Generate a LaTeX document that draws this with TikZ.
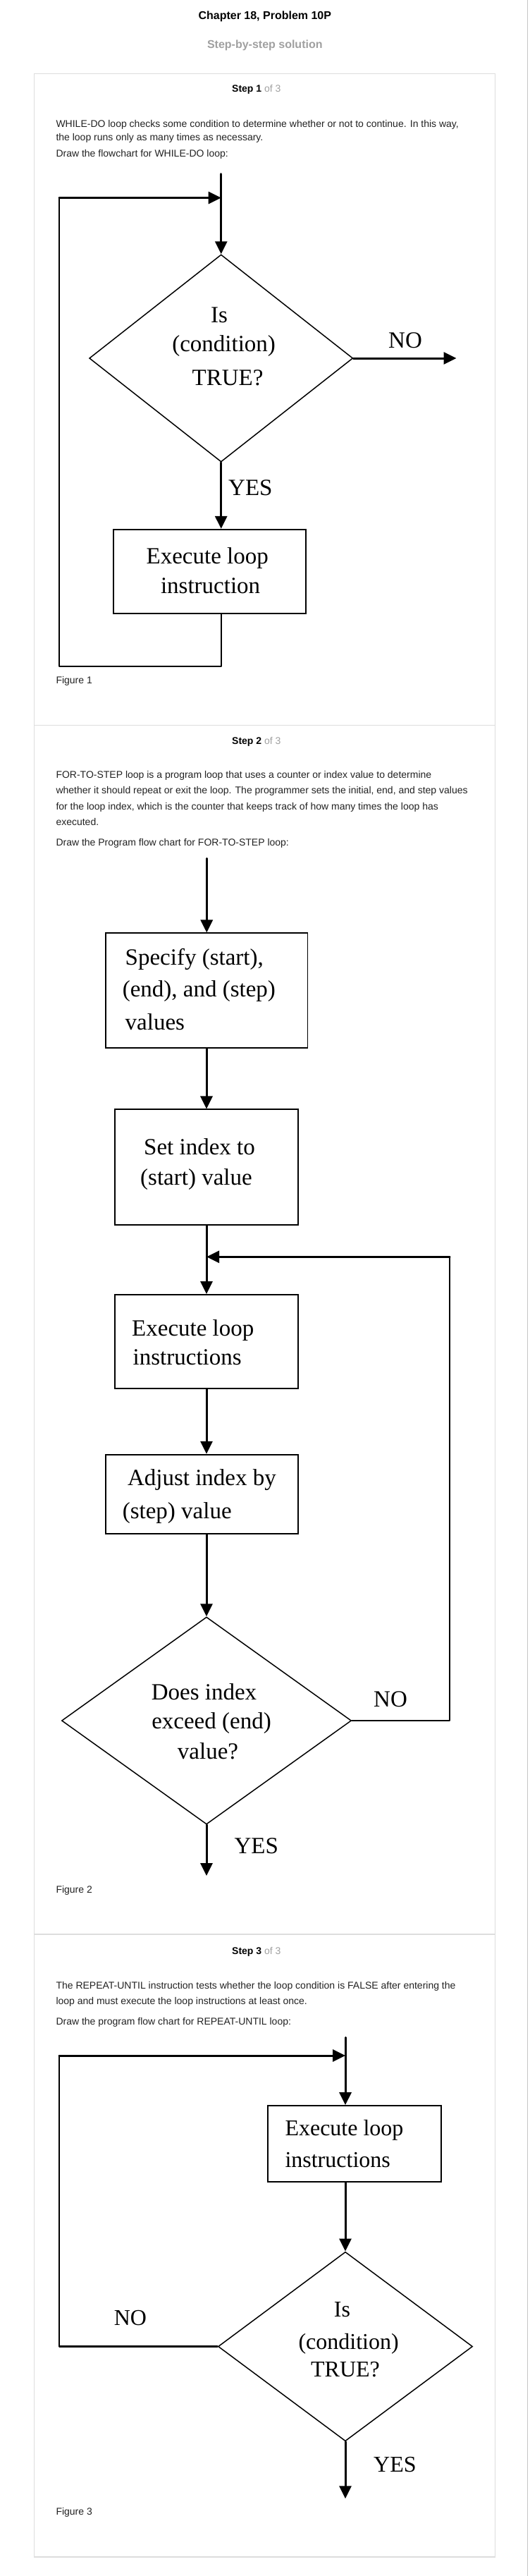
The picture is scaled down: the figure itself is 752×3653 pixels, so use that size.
\documentclass[tikz,border=0pt]{standalone}
\usepackage{fontspec}
\setmainfont{Liberation Serif}
\newfontfamily\sansf{Liberation Sans}
\newfontfamily\seriff{Liberation Serif}
\usetikzlibrary{arrows.meta,shapes.geometric}
\definecolor{lightg}{HTML}{A0A0A0}
\definecolor{panelg}{HTML}{DDDDDD}
\definecolor{bodyc}{HTML}{222222}
\begin{document}
\begin{tikzpicture}[x=1pt,y=-1pt,
  body/.style={font=\sansf\fontsize{14}{16}\selectfont, anchor=base west, inner sep=0pt, text=bodyc},
  hdr/.style={font=\sansf\fontsize{14}{16}\selectfont, anchor=base west, inner sep=0pt},
  ttl/.style={font=\sansf\bfseries\fontsize{16}{19}\selectfont, anchor=base, inner sep=0pt},
  dt/.style={font=\seriff\fontsize{33}{40}\selectfont, anchor=base, inner sep=0pt},
  dtl/.style={dt, anchor=base west},
  dts/.style={font=\seriff\fontsize{32}{40}\selectfont, anchor=base, inner sep=0pt},
  dtsl/.style={dts, anchor=base west},
  boxn/.style={draw, line width=1.8pt, inner sep=0pt},
  dia/.style={draw, shape=diamond, line width=1.5pt, inner sep=0pt},
  arr/.style={line width=3pt, line cap=round, -{Triangle[length=18pt,width=17pt]}},
  thinl/.style={line width=2.2pt, line cap=round, line join=round},
  panel/.style={draw=panelg, line width=1.2pt}
]
\fill[white] (0,0) rectangle (752,3653);
\useasboundingbox (0,0) rectangle (752,3653);
\draw[gray!45, line width=1.5pt] (748.5,0) -- (748.5,3653);

% headers
\node[ttl] (title) at (375.8,27.7) {Chapter 18, Problem 10P};
\node[ttl, text=lightg] (sub) at (375.8,69) {Step-by-step solution};
\draw[panel] (48.3,104.3) rectangle (702.6,3626);
\draw[panel] (48.3,1028.3) -- (702.6,1028.3);
\draw[panel] (48.3,2743) -- (702.6,2743);

% ---------- Step 1 ----------
\node[hdr] (h1) at (329,131) {\textbf{Step 1} \textcolor{lightg}{of 3}};
\node[body] (p1a) at (79.3,180) {WHILE-DO loop checks some condition to determine whether or not to continue. In this way,};
\node[body] (p1b) at (79.3,199.3) {the loop runs only as many times as necessary.};
\node[body] (p1c) at (79.3,222.7) {Draw the flowchart for WHILE-DO loop:};

\coordinate (e1) at (313.7,246.7);
\coordinate (j1) at (313.7,280.5);
\node[dia, minimum width=374pt, minimum height=294pt] (d1) at (313.7,508) {};
\node[boxn, minimum width=273.3pt, minimum height=119.3pt] (b1) at (297.35,810.35) {};
\node[dt] (d1a) at (311,457.3) {Is};
\node[dt] (d1b) at (317.6,498.3) {(condition)};
\node[dt] (d1c) at (323,546.7) {TRUE?};
\node[dt] (no1) at (575,493.3) {NO};
\node[dtl] (yes1) at (324,702) {YES};
\node[dt] (b1a) at (294.2,799.3) {Execute loop};
\node[dt] (b1b) at (298.6,841.7) {instruction};
\coordinate (n1) at (647.5,508);
\coordinate (r1a) at (313.7,945);
\coordinate (r1b) at (84,945);
\coordinate (r1c) at (84,280.5);

\draw[arr] (e1) -- (d1.north);
\draw[arr] (d1.east) -- (n1);
\draw[arr] (d1.south) -- (d1.south |- b1.north);
\draw[thinl] (b1.south -| d1.south) -- (r1a) -- (r1b) -- (r1c);
\draw[arr] (r1c) -- (j1);
\node[body] (f1) at (79.3,969.3) {Figure 1};

% ---------- Step 2 ----------
\node[hdr] (h2) at (329,1055) {\textbf{Step 2} \textcolor{lightg}{of 3}};
\node[body] (p2a) at (79.3,1103.3) {FOR-TO-STEP loop is a program loop that uses a counter or index value to determine};
\node[body] (p2b) at (79.3,1125.7) {whether it should repeat or exit the loop. The programmer sets the initial, end, and step values};
\node[body] (p2c) at (79.3,1148.3) {for the loop index, which is the counter that keeps track of how many times the loop has};
\node[body] (p2d) at (79.3,1170.7) {executed.};
\node[body] (p2e) at (79.3,1199.3) {Draw the Program flow chart for FOR-TO-STEP loop:};

\coordinate (e2) at (293.25,1217.3);
\node[boxn, minimum width=286.5pt, minimum height=162.4pt] (bA) at (293.25,1404.5) {};
\node[boxn, minimum width=260pt, minimum height=163.4pt] (bB) at (293,1655) {};
\node[boxn, minimum width=260pt, minimum height=133.3pt] (bC) at (293,1902.65) {};
\node[boxn, minimum width=273pt, minimum height=112.3pt] (bD) at (286.5,2118.85) {};
\node[dia, minimum width=411pt, minimum height=294pt] (d2) at (293,2440) {};

\node[dtl] (bAa) at (177.5,1368.3) {Specify (start),};
\node[dtl] (bAb) at (173.6,1413.3) {(end), and (step)};
\node[dtl] (bAc) at (177.5,1460.7) {values};
\node[dtl] (bBa) at (204,1637.3) {Set index to};
\node[dtl] (bBb) at (199,1680) {(start) value};
\node[dtl] (bCa) at (187,1894) {Execute loop};
\node[dtl] (bCb) at (188.5,1935) {instructions};
\node[dtl] (bDa) at (180.8,2106.7) {Adjust index by};
\node[dtl] (bDb) at (173.6,2153.3) {(step) value};
\node[dt] (d2a) at (289.5,2410) {Does index};
\node[dt] (d2b) at (300,2451.7) {exceed (end)};
\node[dt] (d2c) at (295,2494) {value?};
\node[dt] (no2) at (554,2420) {NO};
\node[dtl] (yes2) at (332.4,2628) {YES};

\coordinate (j2) at (293,1782.3);
\coordinate (r2a) at (638,2440);
\coordinate (r2b) at (638,1782.3);
\coordinate (y2) at (293,2660);
\draw[arr] (e2) -- (bA.north);
\draw[arr] (bA.south -| bB.north) -- (bB.north);
\draw[arr] (bB.south) -- (bC.north);
\draw[arr] (bC.south) -- (bC.south |- bD.north);
\draw[arr] (bC.south |- bD.south) -- (d2.north);
\draw[thinl] (d2.east) -- (r2a) -- (r2b);
\draw[arr] (r2b) -- (j2);
\draw[arr] (d2.south) -- (y2);
\node[body] (f2) at (79.3,2684.6) {Figure 2};

% ---------- Step 3 ----------
\node[hdr] (h3) at (329,2771) {\textbf{Step 3} \textcolor{lightg}{of 3}};
\node[body] (p3a) at (79.3,2820) {The REPEAT-UNTIL instruction tests whether the loop condition is FALSE after entering the};
\node[body] (p3b) at (79.3,2842.5) {loop and must execute the loop instructions at least once.};
\node[body] (p3c) at (79.3,2871.5) {Draw the program flow chart for REPEAT-UNTIL loop:};

\coordinate (e3) at (490,2889.3);
\coordinate (j3) at (490,2915);
\node[boxn, minimum width=245.7pt, minimum height=108.3pt] (bE) at (503.15,3040.15) {};
\node[dia, minimum width=361pt, minimum height=268.4pt] (d3) at (490,3327.5) {};
\node[dtsl] (bEa) at (404.3,3028.3) {Execute loop};
\node[dtsl] (bEb) at (404.3,3073.3) {instructions};
\node[dts] (d3a) at (485.5,3285) {Is};
\node[dts] (d3b) at (494.6,3331.7) {(condition)};
\node[dts] (d3c) at (490,3370.7) {TRUE?};
\node[dts] (no3) at (185,3297.7) {NO};
\node[dtsl] (yes3) at (530,3505) {YES};
\coordinate (r3a) at (84,3327.5);
\coordinate (r3b) at (84,2915);
\coordinate (y3) at (490,3543.3);
\draw[arr] (e3) -- (e3 |- bE.north);
\draw[arr] (bE.south -| e3) -- (d3.north);
\draw[thinl] (d3.west) -- (r3a) -- (r3b);
\draw[arr] (r3b) -- (j3);
\draw[arr] (d3.south) -- (y3);
\node[body] (f3) at (79.3,3566.7) {Figure 3};
\end{tikzpicture}
\end{document}
